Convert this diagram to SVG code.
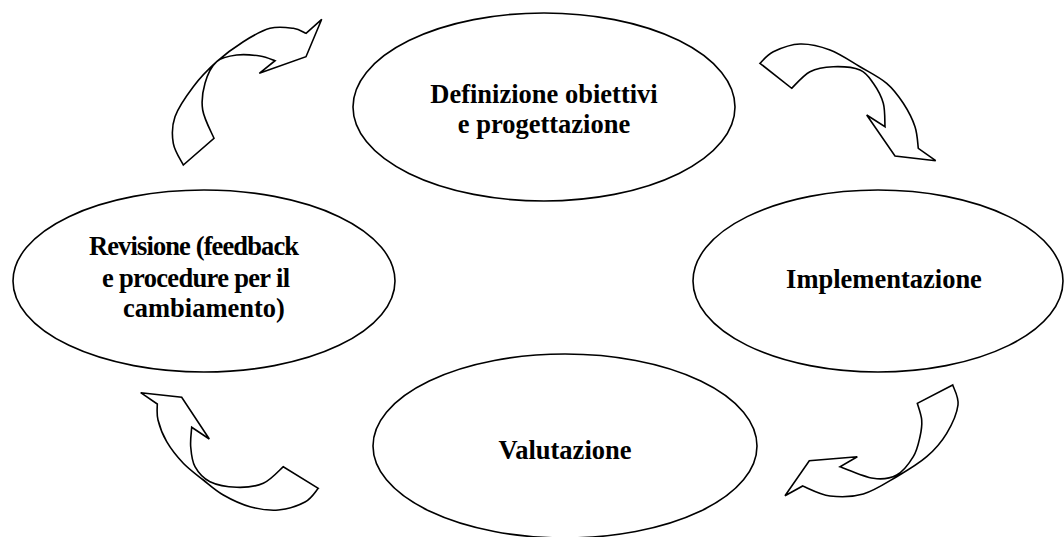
<svg xmlns="http://www.w3.org/2000/svg" width="1064" height="537" viewBox="0 0 1064 537">
<style>
.node ellipse{fill:#fff;stroke:#000;stroke-width:1.6}
.node text{font-family:"Liberation Serif","Times New Roman",serif;font-weight:bold;font-size:26.5px;fill:#000;text-anchor:middle}
.conn path{fill:#fff;stroke:#000;stroke-width:1.6;stroke-linejoin:miter}
</style>
<rect width="1064" height="537" fill="#fff"/>
<g id="connectors" class="conn">
<path id="arrow-revisione-definizione" d="M306,33.3 L321.7,19.3 L306,56.7 L259.3,73.3 L275,60.7 C272.5,59.9 266.4,57 260,56 C253.6,55.05 243.9,54.05 236.7,55 C229.5,55.95 222,57 216.7,61.7 C211.4,66.4 207.3,75.25 205,83.3 C202.7,91.35 201.2,100.8 202.7,110 C204.2,119.2 212.1,133.6 214,138.3 L183.3,165 C181.6,161.4 174.7,151.35 173.3,143.3 C171.9,135.25 171.7,126.1 175,116.7 C178.3,107.3 186.35,95.9 193.3,86.7 C200.25,77.5 208.4,69.2 216.7,61.7 C225,54.2 234.4,47.3 243.3,41.7 C252.2,36.1 261.7,30.5 270,28.3 C278.3,26.1 287.3,27.5 293.3,28.3 C299.3,29.1 303.9,32.5 306,33.3 Z"/>
<path id="arrow-definizione-implementazione" d="M760,63.3 L791.7,88.3 C794.75,85.5 803.1,75.3 810,71.7 C816.9,68.1 825,67 833.3,66.7 C841.6,66.4 853.3,67.2 860,70 C866.7,72.8 869.4,77.75 873.3,83.3 C877.2,88.85 881.35,96.1 883.3,103.3 C885.25,110.5 884.7,122.8 885,126.7 L866.7,115 L895,156 L935.7,160.7 L918.3,148.3 C917.75,144.7 917.5,134.2 915,126.7 C912.5,119.2 908,110.5 903.3,103.3 C898.6,96.1 893.9,89.4 886.7,83.3 C879.5,77.2 869.45,72.25 860,66.7 C850.55,61.15 840,53.8 830,50 C820,46.2 809.45,43.7 800,44 C790.55,44.3 780,48.5 773.3,51.7 C766.6,54.9 762.2,61.4 760,63.3 Z"/>
<path id="arrow-implementazione-valutazione" d="M952.7,385 L917.3,403.3 C918,406.1 921.25,414.4 921.7,420 C922.15,425.6 921.4,430.6 920,436.7 C918.6,442.8 917.2,450.3 913.3,456.7 C909.4,463.1 903.4,471.4 896.7,475 C890,478.6 882.75,479.7 873.3,478.3 C863.85,476.9 845.55,468.6 840,466.7 L857.3,456.7 L809.3,460.7 L785,495.7 L802.7,486 C807.25,487.7 819.9,494.7 830,496 C840.1,497.3 852.2,497.2 863.3,494 C874.4,490.8 886.1,482.9 896.7,476.7 C907.3,470.5 918.4,463.9 926.7,456.7 C935,449.5 941.5,441.9 946.7,433.3 C951.9,424.7 957,413.05 958,405 C959,396.95 953.6,388.3 952.7,385 Z"/>
<path id="arrow-valutazione-revisione" d="M140.7,392.7 L181.7,397.3 L209.3,439 L191.7,427.3 C191.5,430.5 190.15,440.1 190.7,446.7 C191.25,453.3 191.8,460.9 195,466.7 C198.2,472.5 203.05,478.3 210,481.7 C216.95,485.1 227.8,487 236.7,487.3 C245.6,487.6 255.5,486.7 263.3,483.3 C271.1,479.9 280,469.5 283.3,466.7 L318.3,488.3 C316.1,490.5 311.7,498.4 305,502 C298.3,505.6 287.5,509.2 278.3,510 C269.1,510.8 259.2,509.2 250,506.7 C240.8,504.2 231.1,499.45 223.3,495 C215.5,490.55 210,485.3 203.3,480 C196.6,474.7 189.4,469.7 183.3,463.3 C177.2,456.9 170.9,448.9 166.7,441.7 C162.5,434.5 159.6,426.3 158,420 C156.4,413.7 157.4,406.7 157.3,404 L140.7,392.7 Z"/>
</g>
<g id="node-definizione" class="node">
<ellipse cx="544" cy="107" rx="191" ry="94"/>
<text x="544" y="103">Definizione obiettivi</text>
<text x="544" y="133">e progettazione</text>
</g>
<g id="node-implementazione" class="node">
<ellipse cx="878" cy="281" rx="185" ry="91"/>
<text x="884" y="288">Implementazione</text>
</g>
<g id="node-valutazione" class="node">
<ellipse cx="565" cy="446" rx="192" ry="92"/>
<text x="565" y="459">Valutazione</text>
</g>
<g id="node-revisione" class="node">
<ellipse cx="204" cy="281" rx="191" ry="91"/>
<text x="194" y="255" textLength="210">Revisione (feedback</text>
<text x="196" y="287" textLength="188">e procedure per il</text>
<text x="204" y="317">cambiamento)</text>
</g>
</svg>
